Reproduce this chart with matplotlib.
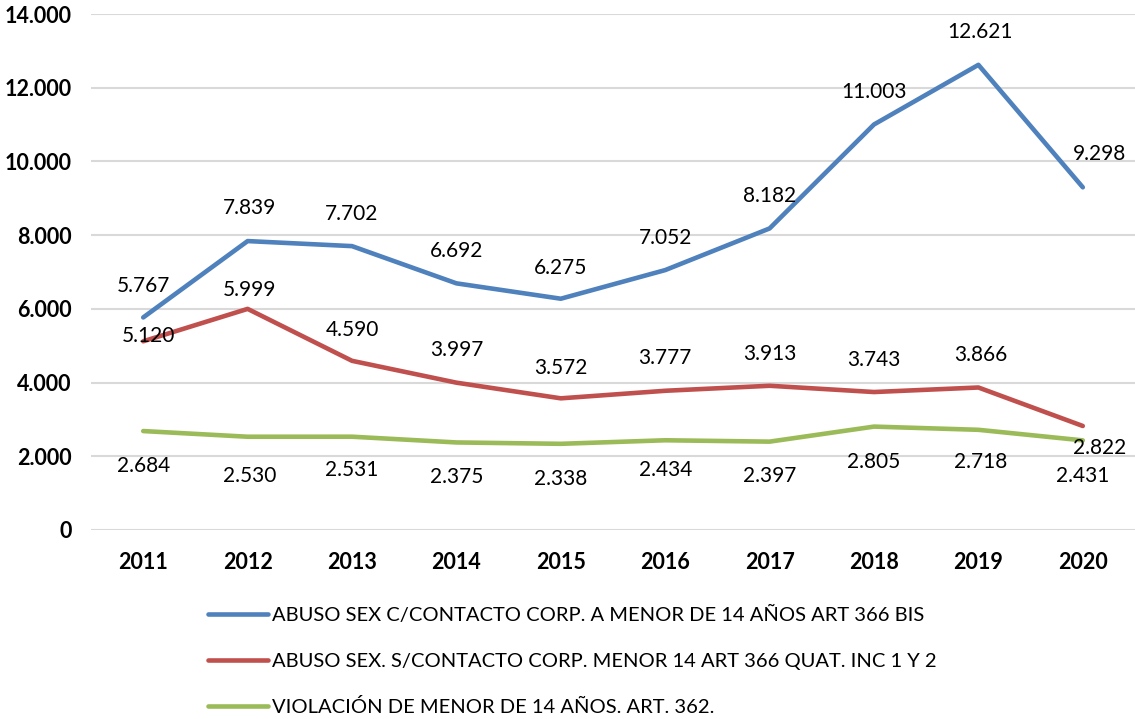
import matplotlib.pyplot as plt
from matplotlib.ticker import FuncFormatter

plt.rcParams['font.family'] = ['Lato', 'DejaVu Sans']

years = ['2011', '2012', '2013', '2014', '2015', '2016', '2017', '2018', '2019', '2020']
abuso_con = [5767, 7839, 7702, 6692, 6275, 7052, 8182, 11003, 12621, 9298]
abuso_sin = [5120, 5999, 4590, 3997, 3572, 3777, 3913, 3743, 3866, 2822]
violacion = [2684, 2530, 2531, 2375, 2338, 2434, 2397, 2805, 2718, 2431]

names = ['ABUSO SEX C/CONTACTO CORP. A MENOR DE 14 AÑOS ART 366 BIS',
         'ABUSO SEX. S/CONTACTO CORP. MENOR 14 ART 366 QUAT. INC 1 Y 2',
         'VIOLACIÓN DE MENOR DE 14 AÑOS. ART. 362.']
colors = ['#4F81BD', '#C0504D', '#9BBB59']

# label offsets in pixels (dx, dy), roughly where excel put them
off_blue = [(0, 31), (2, 33), (0, 32), (0, 32), (0, 31), (0, 32), (0, 32), (0, 32), (2, 33), (17, 33)]
off_red = [(5, 5), (2, 19), (0, 31), (0, 33), (0, 30), (0, 33), (0, 32), (0, 32), (2, 32), (17, -22)]
off_green = [(0, -35), (2, -39), (0, -33), (0, -35), (0, -35), (0, -30), (0, -34), (0, -35), (2, -32), (0, -36)]

fig = plt.figure(figsize=(11.35, 7.19), dpi=100)
ax = fig.add_axes([0.0802, 0.2629, 0.9198, 0.7176])

x = range(len(years))
series = [abuso_con, abuso_sin, violacion]
offsets = [off_blue, off_red, off_green]
for vals, name, c, offs in zip(series, names, colors, offsets):
    ax.plot(x, vals, color=c, lw=3.3, label=name, solid_capstyle='round', solid_joinstyle='round', zorder=3)
    for i, v in enumerate(vals):
        lbl = '{:,}'.format(v).replace(',', '.')
        ax.annotate(lbl, (i, v), xytext=offs[i], textcoords='offset pixels',
                    ha='center', va='center', fontsize=15, color='#000000', zorder=4)

ax.set_xlim(-0.5, len(years) - 0.5)
ax.set_ylim(0, 14000)
ax.set_yticks(range(0, 14001, 2000))
ax.yaxis.set_major_formatter(FuncFormatter(lambda v, p: '{:,}'.format(int(v)).replace(',', '.')))
ax.set_xticks(list(x))
ax.set_xticklabels(years)
for lab in ax.get_xticklabels() + ax.get_yticklabels():
    lab.set_fontweight('bold')
    lab.set_fontsize(15.5)
ax.tick_params(axis='both', length=0)
ax.tick_params(axis='x', pad=16)
ax.tick_params(axis='y', pad=14)
ax.grid(axis='y', color='#D9D9D9', lw=1.5)
ax.set_axisbelow(True)
for s in ax.spines.values():
    s.set_visible(False)

fig.legend(loc='upper left', bbox_to_anchor=(0.183, 0.157), frameon=False, fontsize=14.5,
           handlelength=3.0, handletextpad=0.2, labelspacing=1.42, borderaxespad=0, borderpad=0)

plt.savefig('out.png', dpi=100)
